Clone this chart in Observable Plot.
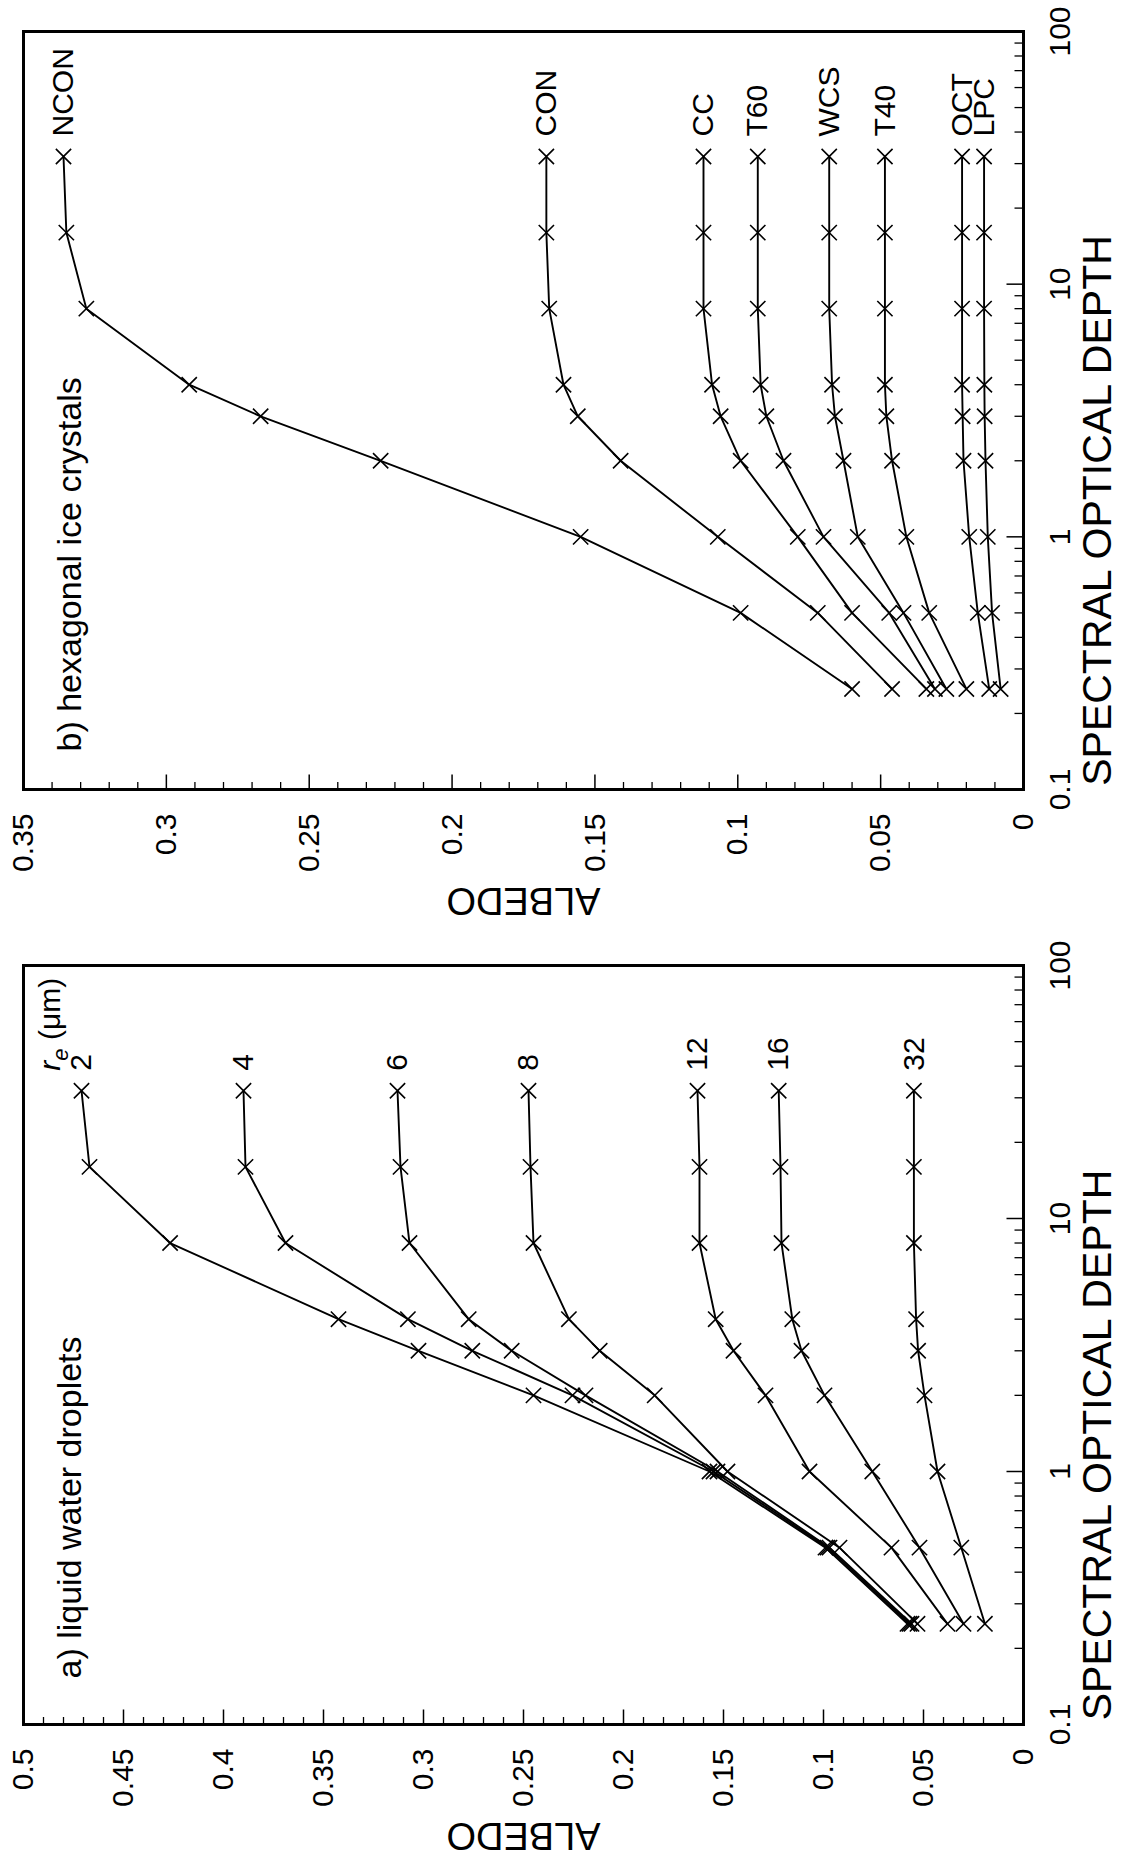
<!DOCTYPE html>
<html>
<head>
<meta charset="utf-8">
<script src="https://cdn.jsdelivr.net/npm/d3@7"></script>
<script src="https://cdn.jsdelivr.net/npm/@observablehq/plot@0.6"></script>
<style>
  html, body { margin: 0; padding: 0; background: #fff; }
  #page { position: relative; width: 1121px; height: 1860px; overflow: hidden; background: #fff; }
  /* the two panels are laid out side by side, then the whole figure is turned a quarter turn */
  #figure {
    position: absolute; left: 0; top: 0; width: 1860px; height: 1121px;
    display: flex; transform-origin: 0 0;
    transform: translate(0, 1860px) rotate(-90deg);
  }
  #figure svg { display: block; }
</style>
</head>
<body>
<div id="page"><div id="figure"></div></div>
<script>
// spectral optical depths at which albedo was computed
const depths = [0.25, 0.5, 1, 2, 3, 4, 8, 16, 32];

// a) liquid water droplets, by effective radius (µm)
const dropletRadii = ["2", "4", "6", "8", "12", "16", "32"];
const albedoR2  = [0.058, 0.099, 0.157, 0.245, 0.3025, 0.3425, 0.4267, 0.467, 0.471];
const albedoR4  = [0.057, 0.098, 0.155, 0.2255, 0.2756, 0.3078, 0.369, 0.389, 0.390];
const albedoR6  = [0.056, 0.097, 0.153, 0.219, 0.2559, 0.2774, 0.307, 0.3115, 0.313];
const albedoR8  = [0.053, 0.092, 0.148, 0.1844, 0.2119, 0.2273, 0.245, 0.2465, 0.2475];
const albedoR12 = [0.038, 0.066, 0.107, 0.129, 0.145, 0.1539, 0.162, 0.162, 0.163];
const albedoR16 = [0.030, 0.052, 0.0756, 0.0995, 0.111, 0.1156, 0.121, 0.1215, 0.1224];
const albedoR32 = [0.0193, 0.0311, 0.043, 0.0495, 0.0527, 0.0537, 0.0548, 0.0548, 0.0548];

// b) hexagonal ice crystals, by crystal habit
const crystalTypes = ["NCON", "CON", "CC", "T60", "WCS", "T40", "OCT", "LPC"];
const albedoNCON = [0.060, 0.099, 0.155, 0.225, 0.267, 0.292, 0.328, 0.335, 0.336];
const albedoCON  = [0.046, 0.072, 0.107, 0.141, 0.156, 0.161, 0.166, 0.167, 0.167];
const albedoCC   = [0.034, 0.060, 0.079, 0.099, 0.106, 0.109, 0.112, 0.112, 0.112];
const albedoT60  = [0.031, 0.047, 0.070, 0.084, 0.090, 0.092, 0.093, 0.093, 0.093];
const albedoWCS  = [0.027, 0.042, 0.058, 0.063, 0.066, 0.067, 0.068, 0.068, 0.068];
const albedoT40  = [0.020, 0.033, 0.041, 0.046, 0.048, 0.0485, 0.0485, 0.0485, 0.0485];
const albedoOCT  = [0.012, 0.016, 0.019, 0.021, 0.0213, 0.0215, 0.0215, 0.0215, 0.0215];
const albedoLPC  = [0.008, 0.011, 0.0125, 0.0133, 0.0136, 0.0137, 0.0138, 0.0138, 0.0138];

// axis ticks
const depthTicks = [0.1, 1, 10, 100];
const albedoTicksA = [0, 0.05, 0.1, 0.15, 0.2, 0.25, 0.3, 0.35, 0.4, 0.45, 0.5];
const albedoTicksB = [0, 0.05, 0.1, 0.15, 0.2, 0.25, 0.3, 0.35];

const font = "'Liberation Sans', Arial, Helvetica, sans-serif";
const fmt = d3.format("~g");

// a short straight stroke used as an inward tick mark
const tickShape = (len, dx, dy) => ({
  draw(ctx) { ctx.moveTo(0, 0); ctx.lineTo(dx * len, dy * len); }
});

function drawPanel({series, yMax, yTicks, marginLeft, marginRight, panelTitle, titleDx, labelClass}) {
  const rows = series.flatMap(s => s.values.map((v, i) => ({name: s.name, depth: depths[i], albedo: v})));
  const ends = series.map(s => ({name: s.name, depth: depths[depths.length - 1], albedo: s.values[s.values.length - 1]}));
  const yMinor = d3.range(0, Math.round(yMax * 100) + 1)
    .map(i => i / 100)
    .filter(v => !yTicks.some(t => Math.abs(t - v) < 1e-9));
  const xMinor = [0.1, 1, 10].flatMap(p => d3.range(2, 10).map(k => +(k * p).toPrecision(3)));

  return Plot.plot({
    width: 930,
    height: 1121,
    marginLeft,
    marginRight,
    marginTop: 23,
    marginBottom: 98,
    style: {fontFamily: font, fontSize: "30px", background: "white", color: "black", overflow: "visible"},
    x: {type: "log", domain: [0.1, 100]},
    y: {domain: [0, yMax]},
    marks: [
      // inward ticks along the albedo axis
      Plot.dot(yMinor, {y: d => d, frameAnchor: "left", symbol: tickShape(7.5, 1, 0), fill: "none", stroke: "black", strokeWidth: 1.3}),
      Plot.dot(yTicks, {y: d => d, frameAnchor: "left", symbol: tickShape(15, 1, 0), fill: "none", stroke: "black", strokeWidth: 1.5}),
      // inward ticks along the optical depth axis
      Plot.dot(xMinor, {x: d => d, frameAnchor: "bottom", symbol: tickShape(9, 0, -1), fill: "none", stroke: "black", strokeWidth: 1.3}),
      Plot.dot(depthTicks, {x: d => d, frameAnchor: "bottom", symbol: tickShape(17, 0, -1), fill: "none", stroke: "black", strokeWidth: 1.5}),
      Plot.axisY({ticks: yTicks, tickSize: 0, tickPadding: 24, tickFormat: fmt, fontSize: 30, label: null}),
      Plot.axisX({ticks: depthTicks, tickSize: 0, tickPadding: 25, tickFormat: fmt, fontSize: 30, label: null}),
      Plot.text(["ALBEDO"], {text: d => d, frameAnchor: "left", dx: -111, rotate: -90, fontSize: 38, textAnchor: "middle", lineAnchor: "middle"}),
      Plot.text(["SPECTRAL OPTICAL DEPTH"], {text: d => d, frameAnchor: "bottom", dx: -100, dy: 74, fontSize: 41, textAnchor: "middle", lineAnchor: "middle"}),
      Plot.text([panelTitle], {text: d => d, frameAnchor: "top-left", dx: titleDx, dy: 47, textAnchor: "start", lineAnchor: "middle", fontSize: 34}),
      // curves and markers
      Plot.line(rows, {x: "depth", y: "albedo", z: "name", stroke: "black", strokeWidth: 1.9}),
      Plot.dot(rows, {x: "depth", y: "albedo", symbol: "times", r: 7, stroke: "black", strokeWidth: 1.6}),
      Plot.text(ends, {x: "depth", y: "albedo", text: "name", dx: 20, textAnchor: "start", lineAnchor: "middle", fontSize: 30}),
      ...(labelClass ? [Plot.text(ends.slice(0, 1), {x: "depth", y: "albedo", text: () => "re (μm)", dx: 20, dy: -31, textAnchor: "start", lineAnchor: "middle", fontSize: 30, className: labelClass})] : []),
      Plot.frame({stroke: "black", strokeWidth: 3})
    ]
  });
}

const seriesA = [albedoR2, albedoR4, albedoR6, albedoR8, albedoR12, albedoR16, albedoR32]
  .map((values, i) => ({name: dropletRadii[i], values}));
const seriesB = [albedoNCON, albedoCON, albedoCC, albedoT60, albedoWCS, albedoT40, albedoOCT, albedoLPC]
  .map((values, i) => ({name: crystalTypes[i], values}));

const panelA = drawPanel({
  series: seriesA, yMax: 0.5, yTicks: albedoTicksA,
  marginLeft: 135, marginRight: 36,
  panelTitle: "a) liquid water droplets", titleDx: 46, labelClass: "radius-label"
});
const panelB = drawPanel({
  series: seriesB, yMax: 0.35, yTicks: albedoTicksB,
  marginLeft: 140, marginRight: 32,
  panelTitle: "b) hexagonal ice crystals", titleDx: 38
});

const figure = document.getElementById("figure");
figure.append(panelA, panelB);

// effective-radius heading: italic r with a subscript e
d3.select(panelA).selectAll(".radius-label text").each(function () {
  const t = d3.select(this);
  t.text(null);
  t.append("tspan").attr("font-style", "italic").text("r");
  t.append("tspan").attr("font-style", "italic").attr("font-size", 22).attr("dy", 8).text("e");
  t.append("tspan").attr("dy", -8).text(" (μm)");
});
</script>
</body>
</html>
